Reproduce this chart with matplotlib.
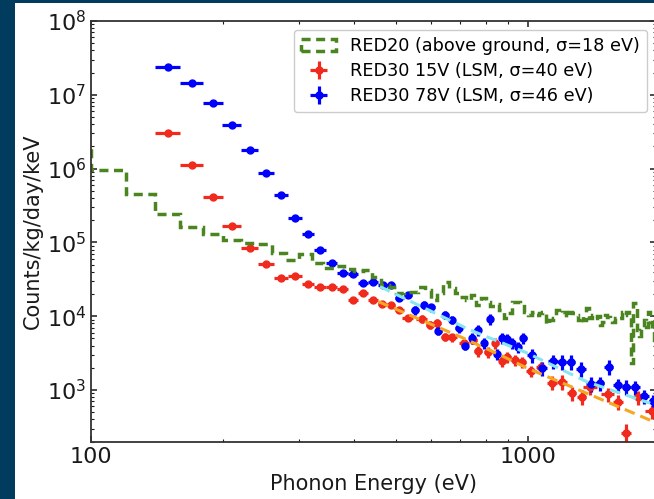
import numpy as np
import matplotlib
matplotlib.use("Agg")
import matplotlib.pyplot as plt
from matplotlib.patches import Rectangle, Patch
from matplotlib.ticker import LogLocator, NullFormatter, FuncFormatter

# RED20 above-ground spectrum: 20 eV bins starting at 80 eV
red20_lo = 80.0
red20_width = 20.0
red20_rate = [1.96e6, 9.6e5, 4.5e5, 2.43e5, 1.6e5, 1.3e5, 1.08e5, 9.8e4, 9.5e4, 7.2e4,
              5.8e4, 7.0e4, 5.2e4, 4.5e4, 4.8e4, 4.4e4, 4.1e4, 4.2e4, 3.4e4, 2.65e4,
              2.5e4, 2.06e4, 2.13e4, 2.15e4, 2.49e4, 2.26e4, 1.66e4, 2.06e4, 2.9e4, 2.41e4,
              2.04e4, 1.82e4, 1.66e4, 1.94e4, 1.42e4, 1.75e4, 1.56e4, 1.37e4, 1.46e4, 1.21e4,
              9.5e3, 1.09e4, 1.57e4, 1.57e4, 1.46e4, 1.15e4, 1.04e4, 1.15e4, 1.04e4, 1.09e4,
              1.15e4, 7.8e3, 8.9e3, 9.4e3, 1.21e4, 1.1e4, 1.15e4, 9.8e3, 1.15e4, 1.09e4,
              1.04e4, 8.9e3, 1.0e4, 8.9e3, 1.28e4, 9.4e3, 1.04e4, 9.4e3, 1.0e4, 7.6e3,
              8.4e3, 1.04e4, 9.8e3, 8.9e3, 8.4e3, 9.4e3, 9.8e3, 9.4e3, 1.15e4, 1.04e4,
              1.15e4, 1.04e4, 2.3e3, 1.5e4, 1.5e4, 6.5e3, 5.3e3, 7.2e3, 8.9e3, 7.2e3,
              1.15e4, 8.4e3, 6.5e3, 4.8e3]

# RED30 at 78 V (LSM)
e78 = [150, 170, 190, 210, 231, 252, 272, 293, 314, 335, 356, 377, 398, 420, 442, 465,
       485, 508, 531, 552, 577, 600, 624, 647, 670, 694, 718, 744, 767, 793, 820, 849,
       872, 897, 919, 948, 977, 1021, 1077, 1140, 1196, 1253, 1321, 1393, 1459, 1530,
       1608, 1682, 1761, 1847, 1932]
r78 = [2.36e7, 1.46e7, 7.8e6, 3.86e6, 1.79e6, 8.7e5, 4.39e5, 2.11e5, 1.30e5, 8.0e4,
       5.2e4, 3.88e4, 3.71e4, 2.84e4, 2.94e4, 2.61e4, 2.61e4, 1.77e4, 1.91e4, 1.21e4,
       1.42e4, 1.31e4, 6.3e3, 1.04e4, 8.9e3, 6.86e3, 4.0e3, 5.1e3, 6.5e3, 4.27e3,
       9.2e3, 3.08e3, 5.0e3, 4.9e3, 4.3e3, 3.8e3, 5.0e3, 2.98e3, 1.99e3, 2.47e3,
       2.42e3, 2.42e3, 1.93e3, 1.21e3, 1.23e3, 2.07e3, 1.17e3, 1.11e3, 1.08e3, 817, 698]
f78 = [0.02] * 13 + [0.08] * 6 + [0.13] * 8 + [0.17] * 10 + [0.22] * 14

# RED30 at 15 V (LSM)
e15 = [150, 170, 190, 210, 231, 252, 272, 293, 314, 335, 356, 377, 398, 420, 442, 464,
       485, 508, 531, 572, 597, 620, 647, 671, 715, 750, 769, 811, 842, 872, 897, 935,
       970, 1018, 1073, 1135, 1196, 1259, 1327, 1389, 1523, 1608, 1680, 1789, 1923]
r15 = [3.0e6, 1.11e6, 4.08e5, 1.65e5, 8.3e4, 5.05e4, 3.33e4, 3.51e4, 2.73e4, 2.51e4,
       2.51e4, 2.31e4, 1.63e4, 2.06e4, 1.67e4, 1.44e4, 1.40e4, 1.22e4, 9.3e3, 9.2e3,
       7.6e3, 8.0e3, 5.27e3, 5.14e3, 4.27e3, 4.76e3, 3.37e3, 3.3e3, 4.3e3, 2.43e3,
       2.8e3, 2.55e3, 2.39e3, 1.81e3, 2.02e3, 1.26e3, 1.29e3, 902, 811, 1.11e3,
       883, 694, 259, 791, 519]
f15 = [0.02] * 13 + [0.08] * 6 + [0.13] * 7 + [0.17] * 9 + [0.22] * 7 + [0.32] + [0.22] * 2

# background model curves
fit78_e = [459, 737, 997, 1365, 1906]
fit78_r = [2.51e4, 6.5e3, 3.16e3, 1.29e3, 660]
fit15_e = [455, 700, 864, 997, 1365, 1940]
fit15_r = [1.57e4, 5.27e3, 2.98e3, 1.97e3, 900, 372]

labels = ["RED20 (above ground, σ=18 eV)",
          "RED30 15V (LSM, σ=40 eV)",
          "RED30 78V (LSM, σ=46 eV)"]

C_GREEN = "#4a8520"
C_RED = "#f02a1c"
C_BLUE = "#0000ff"
C_CYAN = "#86e6f2"
C_ORANGE = "#f5a623"
C_TEXT = "#1a1a1a"
GREEN_DASH = (0, (2.6, 1.6))

W, H = 654, 499
fig = plt.figure(figsize=(W / 100, H / 100), dpi=100, facecolor="#013b5e")
fig.patches.append(Rectangle((15 / W, 0), 1 - 15 / W, (H - 3) / H,
                             transform=fig.transFigure, facecolor="white",
                             edgecolor="none", zorder=-10))

ax = fig.add_axes([91 / W, 1 - 442 / H, (656 - 91) / W, (442 - 21) / H])
ax.set_zorder(1)
ax.set_xscale("log")
ax.set_yscale("log")

edges = red20_lo + red20_width * np.arange(len(red20_rate) + 1)
ax.stairs(red20_rate, edges, baseline=None, color=C_GREEN, lw=2.5,
          linestyle=GREEN_DASH, zorder=2.5)


def half_width(e):
    e = np.asarray(e, float)
    return 0.5 * np.gradient(e)


handles = [Patch(facecolor="none", edgecolor=C_GREEN, lw=2.5, linestyle=GREEN_DASH)]
for e, r, f, c in [(e15, r15, f15, C_RED), (e78, r78, f78, C_BLUE)]:
    r = np.asarray(r, float)
    h = ax.errorbar(e, r, xerr=half_width(e), yerr=r * np.asarray(f), fmt="o",
                    color=c, ms=5, elinewidth=2.3, capsize=0, zorder=2)
    handles.append(h)

ax.plot(fit78_e, fit78_r, color=C_CYAN, lw=2.2, linestyle=(0, (3.5, 2)), zorder=3)
ax.plot(fit15_e, fit15_r, color=C_ORANGE, lw=2.2, linestyle=(0, (3.5, 2)), zorder=3)

ax.set_xlim(100, 1965)
ax.set_ylim(197, 1e8)

ax.xaxis.set_major_locator(LogLocator(base=10))
ax.xaxis.set_minor_locator(LogLocator(base=10, subs=np.arange(2, 10)))
ax.xaxis.set_major_formatter(FuncFormatter(lambda v, p: f"{v:.0f}"))
ax.xaxis.set_minor_formatter(NullFormatter())
ax.yaxis.set_major_locator(LogLocator(base=10, numticks=20))
ax.yaxis.set_minor_locator(LogLocator(base=10, subs=np.arange(2, 10), numticks=20))
ax.yaxis.set_minor_formatter(NullFormatter())

ax.tick_params(which="both", direction="in", top=True, right=True,
               labelsize=16, colors=C_TEXT)
ax.tick_params(which="major", length=4.5, width=1.1)
ax.tick_params(which="minor", length=2.2, width=0.8)
for s in ax.spines.values():
    s.set_color("#333333")
    s.set_linewidth(1.3)

ax.set_xlabel("Phonon Energy (eV)", fontsize=15, color=C_TEXT, labelpad=5)
ax.set_ylabel("Counts/kg/day/keV", fontsize=15, color=C_TEXT, labelpad=3)

ax.legend(handles, labels, loc="upper right", fontsize=12.7, frameon=True,
          framealpha=1, edgecolor="#cccccc", borderaxespad=0.5,
          labelspacing=0.4)

fig.savefig("out.png", dpi=100, facecolor=fig.get_facecolor())
